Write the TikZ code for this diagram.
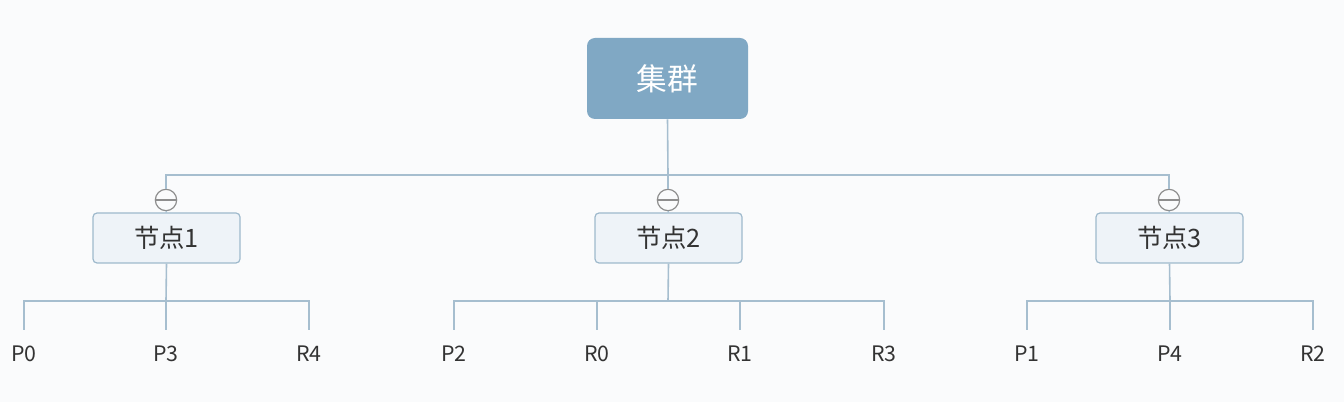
\documentclass[tikz,border=0pt]{standalone}
\usepackage{fontspec}
\setmainfont{Noto Sans CJK SC}
\usetikzlibrary{positioning}
\definecolor{bgcol}{HTML}{FAFBFC}
\definecolor{rootfill}{HTML}{80A8C4}
\definecolor{hostfill}{HTML}{EEF3F8}
\definecolor{hostline}{HTML}{9EB9CC}
\definecolor{linkcol}{HTML}{A6BECF}
\definecolor{foldcol}{HTML}{8E8E8E}
\definecolor{labelcol}{HTML}{333333}

\begin{document}
\begin{tikzpicture}[x=0.75pt, y=-0.75pt,
		root/.style={rectangle, rounded corners=6pt, fill=rootfill, text=white, minimum width=120.75pt, minimum height=60.75pt, font=\fontsize{23}{26}\selectfont},
		host/.style={draw=hostline, line width=0.9pt, rectangle, rounded corners=3pt, fill=hostfill, text=labelcol, minimum width=110.25pt, minimum height=37.5pt, font=\fontsize{19}{22}\selectfont},
		fold/.style={draw=foldcol, line width=0.9pt, circle, fill=bgcol, minimum size=16pt, inner sep=0pt},
		leaf/.style={inner sep=0pt, minimum height=36pt, text=labelcol, font=\fontsize{16}{18}\selectfont},
		link/.style={draw=linkcol, line width=1.2pt},
	]
		\fill[bgcol] (0,0) rectangle (1344,402);
		\useasboundingbox (0,0) rectangle (1344,402);

		% root and hosts
		\node[root] (cluster) at (667.5,78.5) {集群};
		\node[host] (host1) at (166.5,238) {节点1};
		\node[host] (host2) at (668.5,238) {节点2};
		\node[host] (host3) at (1169.5,238) {节点3};

		% collapse markers
		\node[fold] (fold1) at (166,200) {};
		\node[fold] (fold2) at (668,200) {};
		\node[fold] (fold3) at (1169,200) {};
		\foreach \f in {fold1,fold2,fold3}
			\draw[foldcol, line width=0.9pt] (\f.west) -- (\f.east);

		% leaves
		\foreach \name/\xpos in {P0/24, P3/166, R4/309, P2/454, R0/597, R1/740, R3/884, P1/1027, P4/1170, R2/1313}
			\node[leaf] (\name) at (\xpos,354) {\name};

		\coordinate (bus) at (668,175);
		\coordinate (bar1) at (166,301);
		\coordinate (bar2) at (668,301);
		\coordinate (bar3) at (1170,301);

		% top level links
		\draw[link] (cluster.south) -- (bus);
		\draw[link] (bus) -| (fold1.north);
		\draw[link] (bus) -| (fold3.north);
		\draw[link] (bus) -- (fold2.north);
		\foreach \i in {1,2,3}
			\draw[link] (fold\i.south) -- (host\i.north);

		% host to leaf links
		\draw[link] (host1.south) -- (bar1);
		\draw[link] (P0.north) |- (bar1) -| (R4.north);
		\draw[link] (P3.north) -- (bar1);
		\draw[link] (host2.south) -- (bar2);
		\draw[link] (P2.north) |- (bar2) -| (R3.north);
		\foreach \name in {R0,R1}
			\draw[link] (\name.north) -- (\name.north |- bar2);
		\draw[link] (host3.south) -- (bar3);
		\draw[link] (P1.north) |- (bar3) -| (R2.north);
		\draw[link] (P4.north) -- (bar3);
	\end{tikzpicture}
\end{document}
